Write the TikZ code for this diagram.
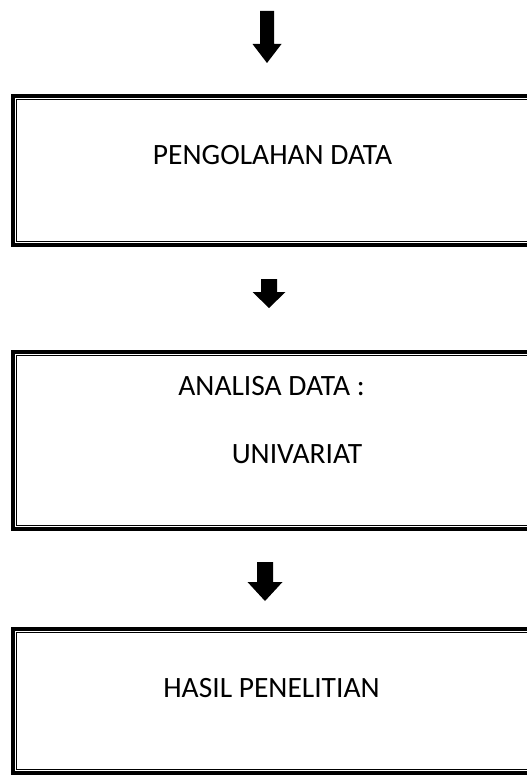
\documentclass[tikz,border=0pt]{standalone}
\usepackage{fontspec}
\setmainfont{Carlito}
\tikzset{
  boxouter/.style={draw, line width=3.6pt, inner sep=0pt, minimum width=518pt, fill=white},
  inline/.style={line width=1.1pt},
  label/.style={inner sep=0pt, anchor=base, font=\fontsize{29.5}{34}\selectfont},
  blockarrow/.style={fill=black, draw=none}
}
\begin{document}
\begin{tikzpicture}[x=1pt, y=-1pt]
\useasboundingbox (0,0) rectangle (527,776);
\clip (0,0) rectangle (527,776);
\fill[white] (0,0) rectangle (527,776);
% boxes
\node[boxouter, minimum height=149pt] (b1) at (272,170.5) {};
\node[boxouter, minimum height=177pt] (b2) at (272,440.5) {};
\node[boxouter, minimum height=144pt] (b3) at (272,701) {};
\draw[inline] ([shift={(5.2,5.2)}]b1.north west) rectangle ([shift={(-5.2,-5.2)}]b1.south east);
\draw[inline] ([shift={(5.2,5.2)}]b2.north west) rectangle ([shift={(-5.2,-5.2)}]b2.south east);
\draw[inline] ([shift={(5.2,5.2)}]b3.north west) rectangle ([shift={(-5.2,-5.2)}]b3.south east);
% texts
\node[label] (t1) at (272.5,164) {PENGOLAHAN DATA};
\node[label] (t2) at (271.5,395) {ANALISA DATA :};
\node[label] (t3) at (297,463) {UNIVARIAT};
\node[label] (t4) at (271.5,697) {HASIL PENELITIAN};
% arrows
\coordinate (a1) at (267,11);
\coordinate (a2) at (269,279);
\coordinate (a3) at (265,562);
\fill[blockarrow] (a1) ++(-7,0) -- ++(14,0) -- ++(0,33) -- ++(7.5,0) -- ++(-14.5,19) -- ++(-14.5,-19) -- ++(7.5,0) -- cycle;
\fill[blockarrow] (a2) ++(-8,0) -- ++(16,0) -- ++(0,13) -- ++(8.5,0) -- ++(-16.5,16) -- ++(-16.5,-16) -- ++(8.5,0) -- cycle;
\fill[blockarrow] (a3) ++(-8,0) -- ++(16,0) -- ++(0,20) -- ++(9.5,0) -- ++(-17.5,19) -- ++(-17.5,-19) -- ++(9.5,0) -- cycle;
\end{tikzpicture}
\end{document}
